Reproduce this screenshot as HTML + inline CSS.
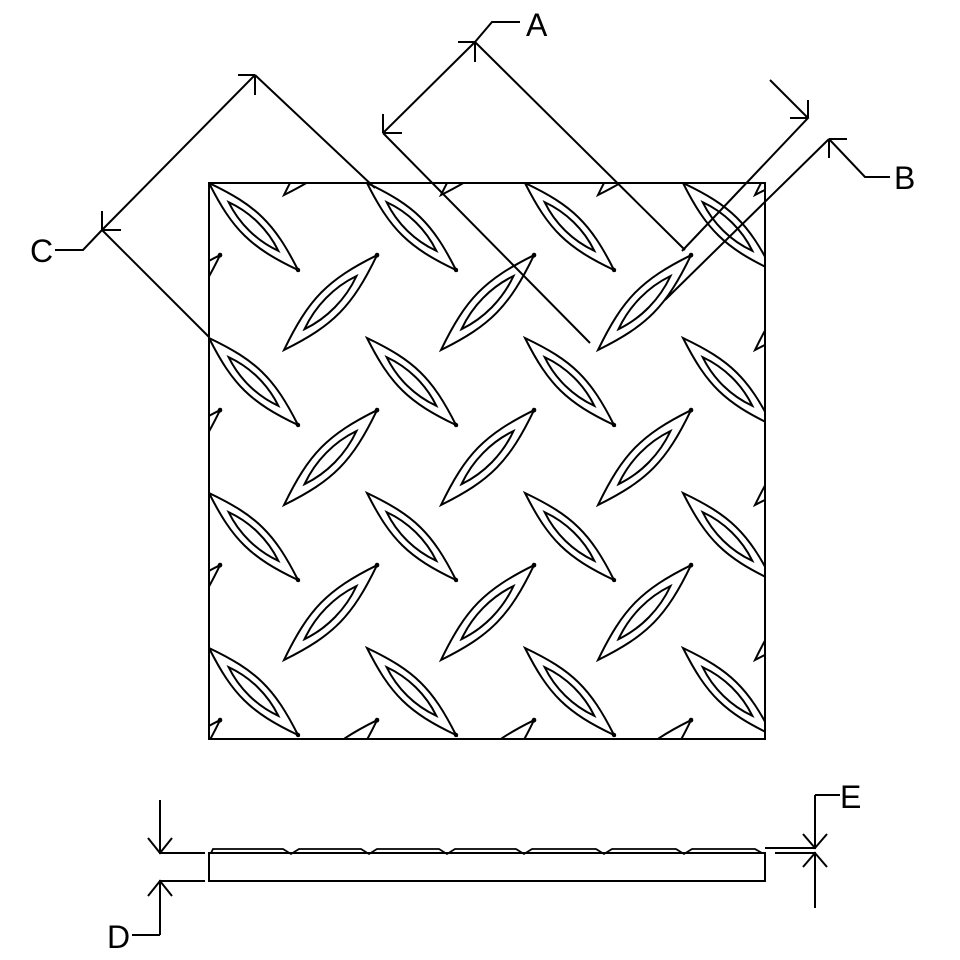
<!DOCTYPE html>
<html><head><meta charset="utf-8"><style>
html,body{margin:0;padding:0;background:#fff;}
svg{display:block;}
text{font-family:"Liberation Sans",sans-serif;font-size:32px;fill:#000;}
</style></head><body>
<svg width="960" height="960" viewBox="0 0 960 960" xmlns="http://www.w3.org/2000/svg">
<defs>
<clipPath id="pc"><rect x="209" y="183" width="556" height="556"/></clipPath>
<g id="d" fill="none" stroke="#000" stroke-width="2">
  <path vector-effect="non-scaling-stroke" d="M0,0 C23.7,47 41.5,64.4 89,87 C65.3,40 47.5,22.6 0,0 Z"/>
  <path vector-effect="non-scaling-stroke" d="M19.6,19.1 C30,40.5 47.8,57.9 69.4,67.9 C59,46.5 41.2,29.1 19.6,19.1 Z"/>
  <circle cx="89" cy="87" r="2.2" fill="#000" stroke="none"/>
</g>
<g id="s"><use href="#d" transform="scale(1.045,-1.09)"/></g>
</defs>
<g stroke="#000" stroke-width="2" fill="none">
<g clip-path="url(#pc)">
  <use href="#d" x="51" y="28"/><use href="#d" x="209" y="28"/><use href="#d" x="367" y="28"/><use href="#d" x="525" y="28"/><use href="#d" x="683" y="28"/>
  <use href="#d" x="51" y="183"/><use href="#d" x="209" y="183"/><use href="#d" x="367" y="183"/><use href="#d" x="525" y="183"/><use href="#d" x="683" y="183"/>
  <use href="#d" x="51" y="338"/><use href="#d" x="209" y="338"/><use href="#d" x="367" y="338"/><use href="#d" x="525" y="338"/><use href="#d" x="683" y="338"/>
  <use href="#d" x="51" y="493"/><use href="#d" x="209" y="493"/><use href="#d" x="367" y="493"/><use href="#d" x="525" y="493"/><use href="#d" x="683" y="493"/>
  <use href="#d" x="51" y="648"/><use href="#d" x="209" y="648"/><use href="#d" x="367" y="648"/><use href="#d" x="525" y="648"/><use href="#d" x="683" y="648"/>
  <use href="#s" transform="translate(127,195)"/><use href="#s" transform="translate(284,195)"/><use href="#s" transform="translate(441,195)"/><use href="#s" transform="translate(598,195)"/><use href="#s" transform="translate(755,195)"/>
  <use href="#s" transform="translate(127,350)"/><use href="#s" transform="translate(284,350)"/><use href="#s" transform="translate(441,350)"/><use href="#s" transform="translate(598,350)"/><use href="#s" transform="translate(755,350)"/>
  <use href="#s" transform="translate(127,505)"/><use href="#s" transform="translate(284,505)"/><use href="#s" transform="translate(441,505)"/><use href="#s" transform="translate(598,505)"/><use href="#s" transform="translate(755,505)"/>
  <use href="#s" transform="translate(127,660)"/><use href="#s" transform="translate(284,660)"/><use href="#s" transform="translate(441,660)"/><use href="#s" transform="translate(598,660)"/><use href="#s" transform="translate(755,660)"/>
  <use href="#s" transform="translate(127,815)"/><use href="#s" transform="translate(284,815)"/><use href="#s" transform="translate(441,815)"/><use href="#s" transform="translate(598,815)"/><use href="#s" transform="translate(755,815)"/>
</g>
<rect x="209" y="183" width="556" height="556"/>

<!-- A -->
<path d="M383,133 L475,42 M383,133 L590,343 M475,42 L685,250 M475,42 L458,42 M475,42 L475,62 M383,133 L383,114 M383,133 L402,133 M475,42 L492,22 L520,22"/>
<!-- B -->
<path d="M770,80 L808,118 L682,251 M808,118 L790,118 M808,118 L808,100 M829,139 L665,300 M829,139 L847,139 M829,139 L829,158 M829,139 L865,177 L890,177"/>
<!-- C -->
<path d="M102,230 L255,75 M255,75 L375,188 M102,230 L209,337 M255,75 L238,75 M255,75 L255,95 M102,230 L102,211 M102,230 L121,230 M102,230 L83,250 L55,250"/>

<!-- side view -->
<rect x="209" y="853" width="556" height="28"/>
<path d="M211,853 L213,849 L283,849 L291,854 L299,849 L361,849 L369,854 L377,849 L439,849 L447,854 L455,849 L516,849 L524,854 L532,849 L596,849 L604,854 L612,849 L676,849 L684,854 L692,849 L755,849 L762,853" stroke-width="1.8"/>
<!-- D -->
<path d="M160,800 L160,853 L205,853 M148,838 L160,853 L172,838 M160,935 L160,881 L205,881 M148,896 L160,881 L172,896 M160,935 L132,935"/>
<!-- E -->
<path d="M815,795 L815,848 L765,848 M803,834 L815,848 L827,834 M815,795 L840,795 M815,908 L815,853 L775,853 M803,867 L815,853 L827,867"/>
</g>
<text x="526" y="36">A</text>
<text x="894" y="189">B</text>
<text x="30" y="262">C</text>
<text x="107" y="948">D</text>
<text x="840" y="808">E</text>
</svg>
</body></html>
